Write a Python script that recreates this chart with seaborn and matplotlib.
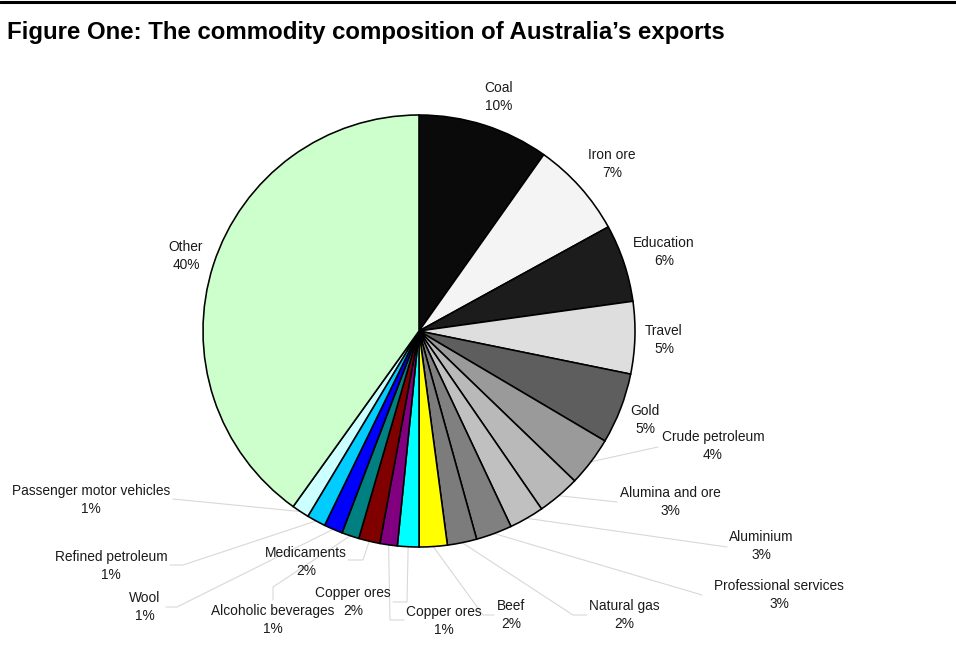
import numpy as np
import matplotlib
matplotlib.use("Agg")
import matplotlib.pyplot as plt
from matplotlib.lines import Line2D
import seaborn as sns

# ---- data -----------------------------------------------------------------
categories = ["Coal", "Iron ore", "Education", "Travel", "Gold", "Crude petroleum",
              "Alumina and ore", "Aluminium", "Professional services", "Natural gas",
              "Beef", "Copper ores", "Copper ores", "Medicaments", "Alcoholic beverages",
              "Wool", "Refined petroleum", "Passenger motor vehicles", "Other"]
shares = [9.8, 7.2, 5.8, 5.4, 5.3, 3.7, 3.2, 2.6, 2.7, 2.2, 2.1,
          1.6, 1.3, 1.6, 1.3, 1.4, 1.4, 1.3, 40.1]
slice_colors = ["#0a0a0a", "#f4f4f4", "#1c1c1c", "#dedede", "#5e5e5e", "#9a9a9a",
                "#b9b9b9", "#c0c0c0", "#808080", "#7c7c7c", "#ffff00",
                "#00ffff", "#800080", "#800000", "#008080", "#0000ff", "#00ccff",
                "#ccffff", "#ccffcc"]
title = "Figure One: The commodity composition of Australia\u2019s exports"

# ---- layout (pixel coordinates measured from the top-left corner) ---------
W, H = 956, 656
CENTER = (419, 331)
RADIUS = 216
LINE_GAP = 17.5
label_xy = [(499, 97), (612, 164), (664, 252), (664, 340), (645, 420), (713, 446),
            (670, 502), (761, 546), (779, 595), (624, 615), (511, 615),
            (353, 602), (444, 621), (306, 562), (273, 620), (145, 607),
            (111, 566), (91, 500), (186, 256)]
leader_pts = [None, None, None, None, None, [(658, 447)],
              [(617, 502)], [(727, 547)], [(702, 595)], [(573, 615), (587, 615)],
              [(483, 615), (494, 615)],
              [(407, 602), (393, 602)], [(390, 620), (404, 620)],
              [(363, 560), (348, 560)], [(273, 587), (273, 600)],
              [(177, 607), (166, 607)], [(183, 565), (170, 565)],
              [(173, 499)], None]


def px(x, y):
    """Convert top-down pixel coordinates into the axes' data space."""
    return x, H - y


sns.set_theme(style="white")
plt.rcParams["font.family"] = ["Liberation Sans", "DejaVu Sans"]

fig = plt.figure(figsize=(W / 100, H / 100), dpi=100)
fig.patch.set_facecolor("white")
ax = fig.add_axes([0, 0, 1, 1])

palette = sns.color_palette(slice_colors)
cx, cy = px(*CENTER)
wedges, _ = ax.pie(shares, colors=palette, startangle=90, counterclock=False,
                   center=(cx, cy), radius=RADIUS, frame=True,
                   wedgeprops=dict(edgecolor="black", linewidth=1.15))
ax.set_xlim(0, W)
ax.set_ylim(0, H)
ax.set_aspect("equal")
ax.axis("off")

total = float(sum(shares))
cum = np.cumsum([0] + shares[:-1])
text_style = dict(ha="center", va="center", fontsize=9.9, color="#1a1a1a")
for i, (name, v) in enumerate(zip(categories, shares)):
    pct = f"{round(100 * v / total):.0f}%"
    lx, ly = label_xy[i]
    ax.text(*px(lx, ly - LINE_GAP / 2), name, **text_style)
    ax.text(*px(lx, ly + LINE_GAP / 2), pct, **text_style)
    if leader_pts[i] is not None:
        mid = np.deg2rad(90 - 360 * (cum[i] + v / 2) / total)
        sx = cx + RADIUS * np.cos(mid)
        sy = cy + RADIUS * np.sin(mid)
        xs = [sx] + [px(*p)[0] for p in leader_pts[i]]
        ys = [sy] + [px(*p)[1] for p in leader_pts[i]]
        ax.add_line(Line2D(xs, ys, color="#d8d8d8", linewidth=0.8, zorder=0))

# heading rule and title
ax.add_line(Line2D([0, W], [H - 2, H - 2], color="black", linewidth=2.2))
fig.text(7 / W, 1 - 33 / H, title, ha="left", va="center", fontsize=17.3,
         fontweight="bold", color="black",
         family=["Liberation Sans Narrow", "Liberation Sans", "DejaVu Sans"])

fig.savefig("out.png", dpi=100, facecolor="white")
